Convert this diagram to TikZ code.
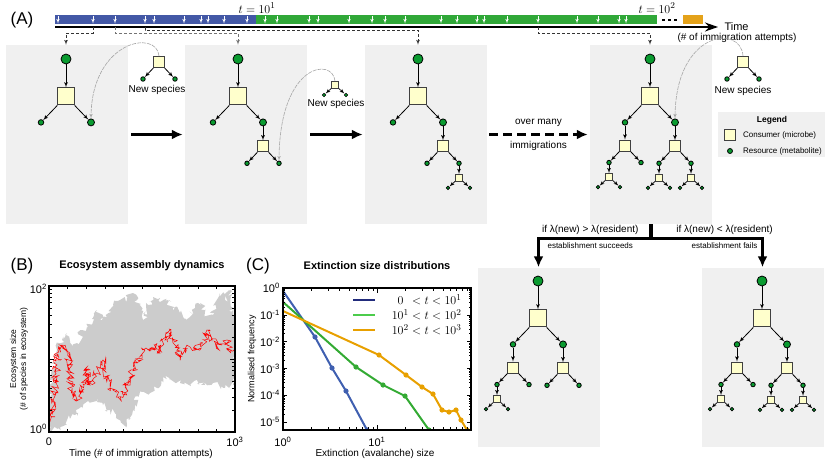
\documentclass[tikz,border=0pt]{standalone}
\usepackage{fontspec}
\setmainfont{Liberation Sans}
\usetikzlibrary{arrows,arrows.meta,calc,positioning,decorations.pathmorphing}
\definecolor{panelgray}{HTML}{F0F0F0}
\definecolor{consyellow}{HTML}{FFFFCC}
\definecolor{resgreen}{HTML}{0A9B30}
\definecolor{tblue}{HTML}{4358A6}
\definecolor{tgreen}{HTML}{30A838}
\definecolor{torange}{HTML}{E4A21A}
\definecolor{cblue}{HTML}{3F5FB0}
\definecolor{cgreen}{HTML}{33AA33}
\definecolor{corange}{HTML}{E8A000}
\definecolor{lgdblue}{HTML}{222C7C}
\definecolor{lgdgreen}{HTML}{4CCC4C}
\definecolor{bandgray}{HTML}{CCCCCC}

\tikzset{
  panel/.style={fill=panelgray,minimum width=122pt,minimum height=179pt,inner sep=0pt},
  cons/.style={rectangle,draw=black!75,fill=consyellow,line width=1pt,inner sep=0pt},
  res/.style={circle,draw=black,fill=resgreen,line width=0.8pt,inner sep=0pt},
  feed/.style={->,line width=0.8pt},
  invade/.style={->,draw=black!35,line width=0.6pt,dash pattern=on 4pt off 1pt},
  link/.style={->,densely dashed,line width=0.7pt,draw=black!80},
  bigarrow/.style={-{Latex[length=11pt,width=10pt]},line width=3.2pt},
  immig/.style={->,white,line width=0.6pt},
  lbl/.style={font=\fontsize{10}{12}\selectfont,inner sep=1pt},
  lgdtext/.style={font=\fontsize{8}{10}\selectfont,inner sep=1pt},
  ptitle/.style={font=\bfseries\fontsize{11}{13}\selectfont},
  plabel/.style={font=\fontsize{17}{17}\selectfont},
  tickl/.style={font=\fontsize{11}{12}\selectfont,inner sep=1pt},
  axisframe/.style={line width=1.2pt},
  dist/.style={line width=2pt}
}

% consumer with its two resources, three sizes
\newcommand{\bigcons}[2]{%
  \node[cons,minimum size=17pt,#2] (#1) {};
  \node[res,minimum size=5.5pt] (#1l) at ([shift={(-25,26)}]#1) {};
  \node[res,minimum size=7pt] (#1r) at ([shift={(25,26)}]#1) {};
  \draw[feed] (#1) -- (#1l);
  \draw[feed] (#1) -- (#1r);
}
\newcommand{\midcons}[2]{%
  \node[cons,minimum size=11pt,#2] (#1) {};
  \node[res,minimum size=4.5pt] (#1l) at ([shift={(-16,17)}]#1) {};
  \node[res,minimum size=4.5pt] (#1r) at ([shift={(16,17)}]#1) {};
  \draw[feed] (#1) -- (#1l);
  \draw[feed] (#1) -- (#1r);
}
\newcommand{\smallcons}[2]{%
  \node[cons,minimum size=7pt,line width=0.8pt,#2] (#1) {};
  \node[res,minimum size=3.5pt,line width=0.6pt] (#1l) at ([shift={(-11,10)}]#1) {};
  \node[res,minimum size=3.5pt,line width=0.6pt] (#1r) at ([shift={(11,10)}]#1) {};
  \draw[feed,line width=0.7pt] (#1) -- (#1l);
  \draw[feed,line width=0.7pt] (#1) -- (#1r);
}

\begin{document}
\begin{tikzpicture}[x=1pt,y=-1pt,>=latex',font=\fontsize{10}{12}\selectfont]
\useasboundingbox (0,0) rectangle (830,466);

% (A) time line
\node[plabel] (labA) at (22,20) {(A)};
\fill[tblue] (55,15) rectangle (256,24);
\fill[tgreen] (256,15) rectangle (657,24);
\fill[torange] (683,15) rectangle (703,24);
\draw[line width=1.5pt,dash pattern=on 3pt off 3pt] (662,20) -- (680,20);
\foreach \x in {58,93,115,145,154,184,201,208,224,247,265,277,309,318,349,372,385,405,441,457,477,484,507,538,577,598,619,626}
  \draw[immig] (\x,16) -- (\x,23.5);
\draw[-{Stealth[length=13pt,width=9pt]},line width=1.2pt] (55,27) -- (718,27);
\node[font=\fontsize{13}{13}\selectfont] (tone) at (257,8) {$t=10^1$};
\node[font=\fontsize{13}{13}\selectfont] (ttwo) at (657,8) {$t=10^2$};
\node[font=\fontsize{11}{13}\selectfont,anchor=west] (timel) at (721,27) {Time};
\node[lbl] (timesub) at (737,38) {(\# of immigration attempts)};
\coordinate (imA) at (93,27);
\coordinate (imB) at (115,27);
\coordinate (imC) at (145,27);
\coordinate (imD) at (538,27);

% (A) snapshots
\node[panel] (snapA) at (67,134.5) {};
\node[panel] (snapB) at (246,134.5) {};
\node[panel] (snapC) at (426,134.5) {};
\node[panel] (snapD) at (651,134.5) {};
\node[panel] (snapE) at (538.5,357) {};
\node[panel] (snapF) at (762.5,357) {};

\node[res,minimum size=10pt] (rA) at (66,59) {};
\bigcons{cA}{below=23pt of rA}
\draw[feed] (rA) -- (cA);

\node[res,minimum size=10pt] (rB) at (238,59) {};
\bigcons{cB}{below=23pt of rB}
\draw[feed] (rB) -- (cB);
\midcons{cBR}{below=14pt of cBr}
\draw[feed] (cBr) -- (cBR);

\node[res,minimum size=10pt] (rC) at (418,59) {};
\bigcons{cC}{below=23pt of rC}
\draw[feed] (rC) -- (cC);
\midcons{cCR}{below=14pt of cCr}
\draw[feed] (cCr) -- (cCR);
\smallcons{cCRR}{below=8pt of cCRr}
\draw[feed] (cCRr) -- (cCRR);

\node[res,minimum size=10pt] (rD) at (650,59) {};
\bigcons{cD}{below=23pt of rD}
\draw[feed] (rD) -- (cD);
\midcons{cDL}{below=14pt of cDl}
\draw[feed] (cDl) -- (cDL);
\midcons{cDR}{below=14pt of cDr}
\draw[feed] (cDr) -- (cDR);
\smallcons{cDLL}{below=8pt of cDLl}
\draw[feed] (cDLl) -- (cDLL);
\smallcons{cDRL}{below=8pt of cDRl}
\draw[feed] (cDRl) -- (cDRL);
\smallcons{cDRR}{below=8pt of cDRr}
\draw[feed] (cDRr) -- (cDRR);

\node[res,minimum size=10pt] (rE) at (538,281) {};
\bigcons{cE}{below=23pt of rE}
\draw[feed] (rE) -- (cE);
\midcons{cEL}{below=14pt of cEl}
\draw[feed] (cEl) -- (cEL);
\midcons{cER}{below=14pt of cEr}
\draw[feed] (cEr) -- (cER);
\smallcons{cELL}{below=8pt of cELl}
\draw[feed] (cELl) -- (cELL);

\node[res,minimum size=10pt] (rF) at (762,281) {};
\bigcons{cF}{below=23pt of rF}
\draw[feed] (rF) -- (cF);
\midcons{cFL}{below=14pt of cFl}
\draw[feed] (cFl) -- (cFL);
\midcons{cFR}{below=14pt of cFr}
\draw[feed] (cFr) -- (cFR);
\smallcons{cFLL}{below=8pt of cFLl}
\draw[feed] (cFLl) -- (cFLL);
\smallcons{cFRL}{below=8pt of cFRl}
\draw[feed] (cFRl) -- (cFRL);
\smallcons{cFRR}{below=8pt of cFRr}
\draw[feed] (cFRr) -- (cFRR);

% new species
\midcons{nA}{at={(159,62)}}
\node[lbl] (nAt) at (157,90) {New species};
\smallcons{nB}{at={(335,85)}}
\node[lbl] (nBt) at (336,104) {New species};
\midcons{nD}{at={(743,62)}}
\node[lbl] (nDt) at (743,91) {New species};
\draw[invade] (nA.north) .. controls +(-2,-27) and +(1,-78) .. (cAr.north);
\draw[invade] (nB.north) .. controls +(-2,-24) and +(1,-98) .. (cBRr.north);
\draw[invade] (nD.north) .. controls +(-2,-32) and +(1,-88) .. (cDr.north);

% time line to snapshots
\draw[link] (imA) -- ++(0,6) -| (rA |- snapA.north);
\draw[link,draw=black!55] (imB) -- ++(0,6) -| (rB |- snapB.north);
\draw[link] (imC) -- ++(0,3) -| (rC |- snapC.north);
\draw[link] (imD) -- ++(0,6) -| (rD |- snapD.north);

% legend
\node[fill=panelgray,minimum width=107pt,minimum height=45pt,inner sep=0pt] (lgd) at (771.5,134.5) {};
\node[font=\bfseries\fontsize{8.5}{10}\selectfont] (lgdt) at (772,120) {Legend};
\node[cons,minimum size=11pt] (lgdc) at (730,135) {};
\node[res,minimum size=5pt] (lgdr) at (730,151) {};
\node[lgdtext,right=6pt of lgdc] (lgdct) {Consumer (microbe)};
\node[lgdtext,right=9pt of lgdr] (lgdrt) {Resource (metabolite)};

% transitions
\draw[bigarrow,shorten <=3pt,shorten >=2pt] (snapA) -- (snapB);
\draw[bigarrow,shorten <=3pt,shorten >=2pt] (snapB) -- (snapC);
\draw[bigarrow,dash pattern=on 9pt off 5pt,shorten <=2pt,shorten >=2pt] (snapC) --
  node[lbl,above=5pt] {over many} node[lbl,below=4pt] {immigrations} (snapD);
\draw[bigarrow] (snapD.south) -- ++(0,14) -|
  node[lbl,pos=0.27,above=1pt] {if λ(new) > λ(resident)}
  node[lgdtext,pos=0.27,below=2pt] {establishment succeeds} (snapE.north);
\draw[bigarrow] (snapD.south) -- ++(0,14) -|
  node[lbl,pos=0.33,above=1pt] {if λ(new) < λ(resident)}
  node[lgdtext,pos=0.33,below=2pt] {establishment fails} (snapF.north);

% (B) assembly dynamics
\node[plabel] (labB) at (22,266) {(B)};
\node[ptitle] (titB) at (142,266) {Ecosystem assembly dynamics};
\pgfmathsetseed{7}
\begin{scope}
\clip (49,286) rectangle (235,432);
\fill[bandgray,decorate,decoration={random steps,segment length=2pt,amplitude=3.5pt}]
  (49,432) -- (50,380) -- (57,350) -- (62,340) -- (67,333) -- (72,345) -- (77,343) -- (82,330)
  -- (87,327) -- (92,318) -- (97,310) -- (102,320) -- (107,317) -- (113,305) -- (120,300)
  -- (127,298) -- (133,293) -- (138,305) -- (143,320) -- (148,305) -- (153,297) -- (160,302)
  -- (167,300) -- (173,308) -- (180,313) -- (185,318) -- (190,317) -- (195,308) -- (200,303)
  -- (205,312) -- (210,317) -- (215,305) -- (220,293) -- (225,300) -- (230,290) -- (233,317)
  -- (236,315) -- (236,385) -- (233,380) -- (225,388) -- (213,383) -- (205,385) -- (197,380)
  -- (190,383) -- (180,383) -- (170,380) -- (163,377) -- (157,388) -- (150,393) -- (140,390)
  -- (133,410) -- (127,425) -- (120,420) -- (110,410) -- (103,405) -- (97,397) -- (90,403)
  -- (83,407) -- (75,415) -- (67,420) -- (58,428) -- (49,433) -- cycle;
\draw[red,line width=0.5pt,decorate,decoration={random steps,segment length=1.2pt,amplitude=4pt}]
  (49,425) -- (51,417) -- (54,395) -- (57,365) -- (58,350) -- (62,345) -- (67,350) -- (70,365)
  -- (72,393) -- (76,400) -- (80,397) -- (84,385) -- (87,367) -- (90,385) -- (94,378) -- (97,373)
  -- (100,368) -- (103,360) -- (106,378) -- (110,385) -- (113,390) -- (118,397) -- (123,397)
  -- (127,385) -- (130,377) -- (134,368) -- (137,363) -- (142,355) -- (146,348) -- (150,350)
  -- (155,345) -- (160,353) -- (165,340) -- (170,330) -- (175,345) -- (180,357) -- (185,350)
  -- (190,347) -- (195,350) -- (200,343) -- (204,340) -- (207,330) -- (212,340) -- (217,347)
  -- (222,345) -- (227,340) -- (231,350) -- (235,345);
\end{scope}
\draw[axisframe] (49,286) rectangle (235,432);
\foreach \d in {359,432}
  \foreach \k in {2,...,9} {
    \draw ({49},{\d-73*log10(\k)}) -- ++(3,0);
    \draw ({235},{\d-73*log10(\k)}) -- ++(-3,0);
  }
\draw (49,359) -- ++(5,0);
\draw (235,359) -- ++(-5,0);
\foreach \i in {1,...,9} {
  \draw ({49+18.6*\i},432) -- ++(0,-3);
  \draw ({49+18.6*\i},286) -- ++(0,3);
}
\node[tickl,anchor=east] (byhi) at (48,289) {10\textsuperscript{2}};
\node[tickl,anchor=east] (bylo) at (48,429) {10\textsuperscript{0}};
\node[tickl] (bxlo) at (49,442) {0};
\node[tickl] (bxhi) at (235,442) {10\textsuperscript{3}};
\node[lbl] (bxl) at (141,454) {Time (\# of immigration attempts)};
\node[font=\fontsize{8.5}{10}\selectfont,rotate=90,align=center] (byl) at (19,359)
  {Ecosystem size\\(\# of species in ecosystem)};

% (C) extinction sizes
\node[plabel] (labC) at (258,266) {(C)};
\node[ptitle] (titC) at (377,266) {Extinction size distributions};
\begin{scope}
\clip (283,288) rectangle (471,430);
\draw[dist,cblue] (283,291) -- (315,337) -- (332,368) -- (346,391) -- (367,430);
\draw[dist,cgreen] (283,302) -- (356,367) -- (383,385) -- (405,396) -- (429,430);
\draw[dist,corange] (283,311) -- (379,355) -- (406,375) -- (422,387) -- (433,394) -- (442,410)
  -- (449,412) -- (456,410) -- (461,420) -- (467,430);
\foreach \x/\y in {315/337,332/368,346/391,367/430} \fill[cblue] (\x,\y) circle (2.6pt);
\foreach \x/\y in {356/367,383/385,405/396,429/430} \fill[cgreen] (\x,\y) circle (2.6pt);
\foreach \x/\y in {379/355,406/375,422/387,433/394,442/410,449/412,456/410,461/420,467/430}
  \fill[corange] (\x,\y) circle (2.6pt);
\end{scope}
\draw[axisframe] (283,288) rectangle (471,430);
\foreach \d/\e in {0/0,1/-1,2/-2,3/-3,4/-4,5/-5} {
  \draw (283,{288+26.8*\d}) -- ++(4,0);
  \draw (471,{288+26.8*\d}) -- ++(-4,0);
  \node[tickl,anchor=east] at (281,{288+26.8*\d}) {10\textsuperscript{\e}};
}
\foreach \d in {1,...,5}
  \foreach \k in {2,...,9} {
    \draw (283,{288+26.8*(\d-log10(\k))}) -- ++(2,0);
    \draw (471,{288+26.8*(\d-log10(\k))}) -- ++(-2,0);
  }
\foreach \k in {2,...,9} {
  \draw ({283+94*log10(\k)},430) -- ++(0,-3);
  \draw ({377+94*log10(\k)},430) -- ++(0,-3);
  \draw ({283+94*log10(\k)},288) -- ++(0,3);
  \draw ({377+94*log10(\k)},288) -- ++(0,3);
}
\draw (377,430) -- ++(0,-5);
\draw (377,288) -- ++(0,5);
\node[tickl] (cxlo) at (283,442) {10\textsuperscript{0}};
\node[tickl] (cxhi) at (377,442) {10\textsuperscript{1}};
\node[lbl] (cxl) at (375,454) {Extinction (avalanche) size};
\node[font=\fontsize{9}{11}\selectfont,rotate=90] (cyl) at (252,359) {Normalised frequency};
\draw[dist,line width=2.5pt,lgdblue] (353,300) -- (375,300);
\draw[dist,line width=2.5pt,lgdgreen] (353,315) -- (375,315);
\draw[dist,line width=2.5pt,corange] (353,330) -- (375,330);
\node[font=\fontsize{13}{13}\selectfont,anchor=east] (ldone) at (465,300) {$\hphantom{1}0\hphantom{^1}<t<10^1$};
\node[font=\fontsize{13}{13}\selectfont,anchor=east] (ldtwo) at (465,315) {$10^1<t<10^2$};
\node[font=\fontsize{13}{13}\selectfont,anchor=east] (ldthree) at (465,330) {$10^2<t<10^3$};
\end{tikzpicture}
\end{document}
